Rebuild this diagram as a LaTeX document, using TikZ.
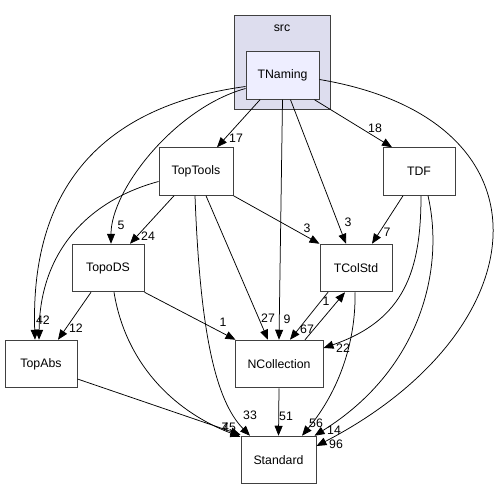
\documentclass[tikz,border=0pt]{standalone}
\usepackage{fontspec}
\setmainfont{Liberation Sans}
\usetikzlibrary{arrows.meta}
\definecolor{boxc}{RGB}{64,64,64}
\definecolor{clusterfill}{RGB}{221,221,238}
\definecolor{mainfill}{RGB}{238,238,255}
\begin{document}
\begin{tikzpicture}[x=1pt,y=-1pt,
  box/.style={draw=boxc, line width=1pt, fill=white, minimum width=#1, minimum height=47.5pt, inner sep=0pt, font=\fontsize{12.3}{14}\selectfont},
  cluster/.style={draw=boxc, line width=1pt, fill=clusterfill, minimum width=96pt, minimum height=94pt, inner sep=0pt},
  edge/.style={-{Triangle[length=10pt,width=8pt]}, line width=0.75pt, black},
  lbl/.style={inner sep=0pt, font=\fontsize{12.3}{14}\selectfont}]
\useasboundingbox (0,0) rectangle (502,489);
% cluster
\node[cluster] (src) at (282,63) {};
\node[lbl] (srclabel) at (282,28) {src};
% nodes
\node[box=73pt, fill=mainfill] (TNaming) at (282.5,75.5) {TNaming};
\node[box=74pt] (TopTools) at (196,171.5) {TopTools};
\node[box=72pt] (TDF) at (419,171.5) {TDF};
\node[box=72pt] (TopoDS) at (108,268) {TopoDS};
\node[box=72pt] (TColStd) at (356,268) {TColStd};
\node[box=72pt] (TopAbs) at (41,364) {TopAbs};
\node[box=88pt] (NCollection) at (279,364) {NCollection};
\node[box=75pt] (Standard) at (278.5,460) {Standard};
% edges from TNaming
\draw[edge] ([xshift=-22.5pt]TNaming.south) -- ([xshift=21pt]TopTools.north);
\draw[edge] ([xshift=32pt]TNaming.south) -- ([xshift=-27pt]TDF.north);
\draw[edge] (TNaming.south) -- (NCollection.north);
\draw[edge] ([xshift=8pt]TNaming.south) -- ([xshift=-10pt]TColStd.north);
\draw[edge] ([yshift=-13pt]TNaming.west) .. controls (175,108) and (111,190) .. ([xshift=3pt]TopoDS.north);
\draw[edge] ([yshift=-11pt]TNaming.west) .. controls (110,105) and (30,180) .. ([xshift=-6pt]TopAbs.north);
\draw[edge] ([yshift=-4pt]TNaming.east) .. controls (560,120) and (540,330) .. ([yshift=14pt]Standard.east);
% edges from TopTools
\draw[edge] ([yshift=-10pt]TopTools.west) .. controls (90,200) and (40,250) .. ([xshift=-2pt]TopAbs.north);
\draw[edge] ([xshift=-22pt]TopTools.south) -- ([xshift=22pt]TopoDS.north);
\draw[edge] ([xshift=10pt]TopTools.south) -- ([xshift=-11pt]NCollection.north);
\draw[edge] (TopTools.south east) -- (TColStd.north west);
\draw[edge] ([xshift=-1pt]TopTools.south) .. controls (200,330) and (215,400) .. ([xshift=-28.5pt]Standard.north);
% edges from TDF
\draw[edge] ([xshift=-16pt]TDF.south) -- ([xshift=16pt]TColStd.north);
\draw[edge] ([xshift=2pt]TDF.south) .. controls (421,270) and (405,320) .. ([yshift=16pt]NCollection.east);
\draw[edge] ([xshift=9pt]TDF.south) .. controls (445,270) and (420,370) .. ([xshift=-2pt]Standard.north east);
% edges from TopoDS
\draw[edge] ([xshift=-17pt]TopoDS.south) -- ([xshift=17pt]TopAbs.north);
\draw[edge] (TopoDS.south east) -- ([xshift=1pt]NCollection.north west);
\draw[edge] ([xshift=6pt]TopoDS.south) .. controls (125,360) and (170,410) .. ([yshift=-1pt]Standard.north west);
% TopAbs
\draw[edge] ([yshift=-15pt]TopAbs.east) -- ([yshift=1pt]Standard.north west);
% TColStd / NCollection
\draw[edge] ([xshift=-28pt]TColStd.south) -- ([xshift=11pt]NCollection.north);
\draw[edge] ([xshift=26pt]NCollection.north) -- ([xshift=-11pt]TColStd.south);
\draw[edge] ([xshift=-1pt]TColStd.south) .. controls (356,340) and (340,390) .. ([xshift=23.5pt]Standard.north);
\draw[edge] (NCollection.south) -- (Standard.north);
% labels
\node[lbl] (l17) at (236,138) {17};
\node[lbl] (l18) at (375,128) {18};
\node[lbl] (l5) at (121,225) {5};
\node[lbl] (l24) at (148,236) {24};
\node[lbl] (l42) at (43,320) {42};
\node[lbl] (l12) at (76,328) {12};
\node[lbl] (l1a) at (223,322) {1};
\node[lbl] (l3a) at (307,228) {3};
\node[lbl] (l3b) at (348,222) {3};
\node[lbl] (l7a) at (387,232) {7};
\node[lbl] (l1b) at (326,301) {1};
\node[lbl] (l27) at (268,318) {27};
\node[lbl] (l9) at (287,319) {9};
\node[lbl] (l67) at (307,329) {67};
\node[lbl] (l22) at (343,348) {22};
\node[lbl] (l33) at (250,415) {33};
\node[lbl] (l51) at (286,416) {51};
\node[lbl] (l7b) at (225,427) {7};
\node[lbl] (l45) at (229,427) {45};
\node[lbl] (l56) at (316,423) {56};
\node[lbl] (l14) at (334,430) {14};
\node[lbl] (l96) at (336,444) {96};
\end{tikzpicture}
\end{document}
